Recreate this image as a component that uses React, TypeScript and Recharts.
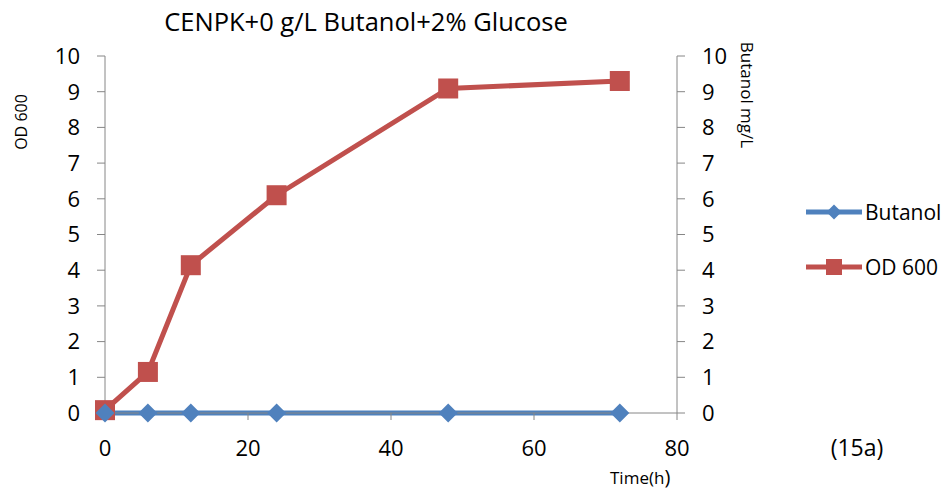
import React from "react";
import { LineChart, Line, XAxis, YAxis, Legend } from "recharts";

const times = [0, 6, 12, 24, 48, 72];
const butanol = [0, 0, 0, 0, 0, 0];
const od600 = [0.08, 1.15, 4.14, 6.1, 9.09, 9.3];
const xTicks = [0, 20, 40, 60, 80];
const yTicks = [0, 1, 2, 3, 4, 5, 6, 7, 8, 9, 10];

const BLUE = "#4F81BD";
const RED = "#C0504D";
const AXIS = "#868686";
const FONT = "'Open Sans', sans-serif";

const data = times.map((t, i) => ({ time: t, butanol: butanol[i], od: od600[i] }));

const Square = (props: any) => {
  const { cx, cy, index } = props;
  if (cx == null || cy == null) return null;
  return <rect key={`sq-${index}`} x={cx - 10} y={cy - 10} width={20} height={20} fill={RED} />;
};

const Diamond = (props: any) => {
  const { cx, cy, index } = props;
  if (cx == null || cy == null) return null;
  const r = 9.5;
  return (
    <polygon
      key={`dm-${index}`}
      points={`${cx},${cy - r} ${cx + r},${cy} ${cx},${cy + r} ${cx - r},${cy}`}
      fill={BLUE}
    />
  );
};

const legendItems = [
  { name: "Butanol", color: BLUE, shape: "diamond" },
  { name: "OD 600", color: RED, shape: "square" },
];

const LegendBox = () => (
  <div style={{ fontFamily: FONT, fontSize: 21, color: "#000" }}>
    {legendItems.map((it) => (
      <div key={it.name} style={{ display: "flex", alignItems: "center", height: 55 }}>
        <svg width={60} height={20} style={{ display: "block" }}>
          <line x1={2} y1={10} x2={58} y2={10} stroke={it.color} strokeWidth={5} />
          {it.shape === "diamond" ? (
            <polygon points="30,2.5 37.5,10 30,17.5 22.5,10" fill={it.color} />
          ) : (
            <rect x={22} y={2} width={16} height={16} fill={it.color} />
          )}
        </svg>
        <span style={{ marginLeft: 1 }}>{it.name}</span>
      </div>
    ))}
  </div>
);

const tickStyle = { fill: "#000", fontSize: 22, fontFamily: FONT };

export default function App() {
  return (
    <div style={{ position: "absolute", left: 0, top: 0, width: 951, height: 490, background: "#fff" }}>
      <LineChart
        width={951}
        height={490}
        data={data}
        margin={{ top: 56, right: 194, bottom: 0, left: 0 }}
      >
        <XAxis
          dataKey="time"
          type="number"
          domain={[0, 80]}
          ticks={xTicks}
          height={77}
          stroke={AXIS}
          tickSize={7}
          tickMargin={20}
          tick={tickStyle}
          interval={0}
        />
        <YAxis
          yAxisId="left"
          orientation="left"
          domain={[0, 10]}
          ticks={yTicks}
          width={105}
          stroke={AXIS}
          tickSize={8}
          tickMargin={17}
          tick={tickStyle}
          interval={0}
        />
        <YAxis
          yAxisId="right"
          orientation="right"
          domain={[0, 10]}
          ticks={yTicks}
          width={80}
          stroke={AXIS}
          tickSize={8}
          tickMargin={17}
          tick={tickStyle}
          interval={0}
        />
        <Legend
          layout="horizontal"
          align="center"
          verticalAlign="middle"
          content={() => <LegendBox />}
          wrapperStyle={{ position: "absolute", left: 804, top: 184, width: 150 }}
        />
        <Line
          yAxisId="left"
          dataKey="od"
          name="OD 600"
          stroke={RED}
          strokeWidth={5}
          dot={Square}
          activeDot={false}
          isAnimationActive={false}
        />
        <Line
          yAxisId="right"
          dataKey="butanol"
          name="Butanol"
          stroke={BLUE}
          strokeWidth={5}
          dot={Diamond}
          activeDot={false}
          isAnimationActive={false}
        />
      </LineChart>
      <svg
        width={951}
        height={490}
        style={{ position: "absolute", left: 0, top: 0, pointerEvents: "none" }}
        fontFamily={FONT}
      >
        <text x={366} y={31} textAnchor="middle" fontSize={25.5} fill="#000">
          CENPK+0 g/L Butanol+2% Glucose
        </text>
        <text x={27} y={122} textAnchor="middle" fontSize={16} fill="#000" transform="rotate(-90 27 122)">
          OD 600
        </text>
        <text x={741} y={95} textAnchor="middle" fontSize={17} fill="#000" transform="rotate(90 741 95)">
          Butanol mg/L
        </text>
        <text x={610} y={484} fontSize={17} fill="#000">
          Time(h<tspan fontSize={20}>)</tspan>
        </text>
        <text x={857} y={456} textAnchor="middle" fontSize={23} fill="#000">
          (15a)
        </text>
      </svg>
    </div>
  );
}
